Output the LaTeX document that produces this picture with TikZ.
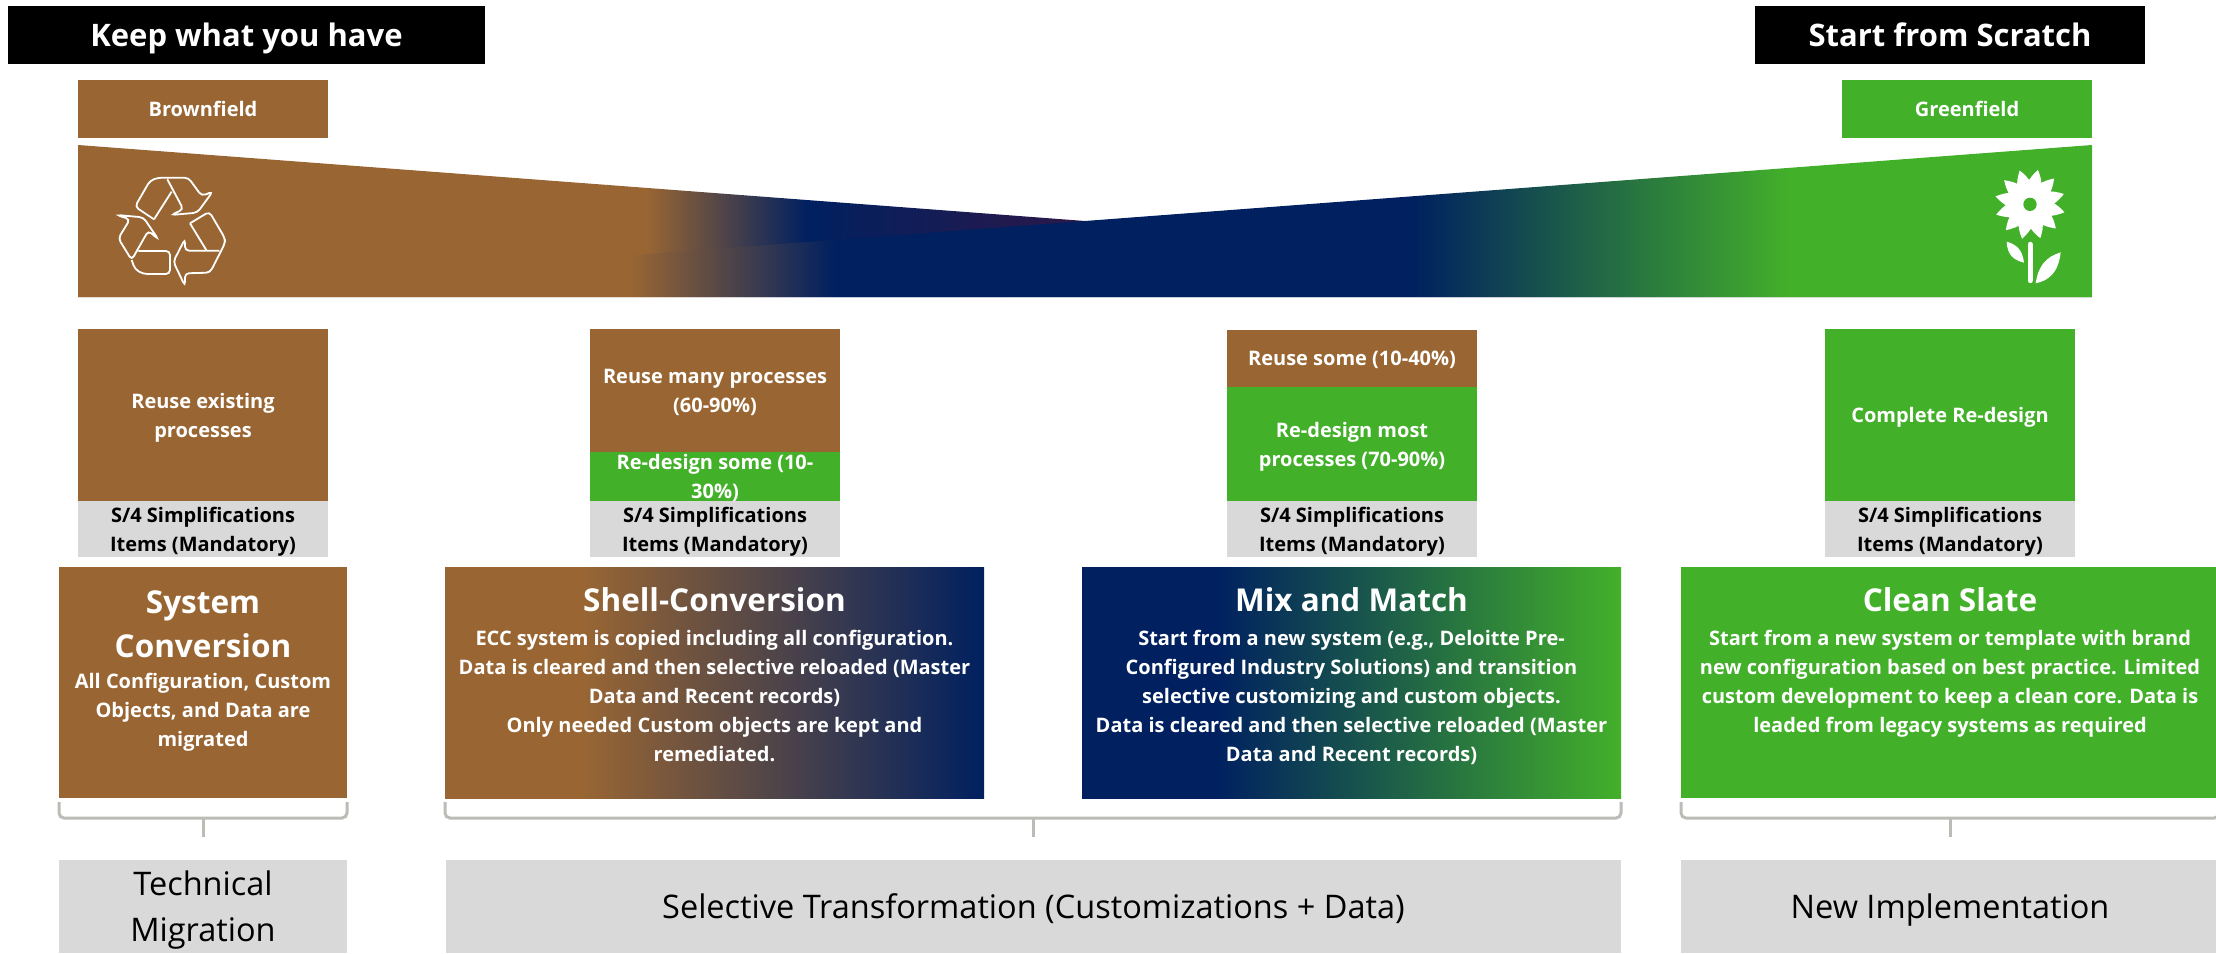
\documentclass[tikz,border=0pt]{standalone}
\usepackage{fontspec}
\setmainfont{Open Sans}
\usepackage{tikz}
\usetikzlibrary{calc,positioning}

\definecolor{fieldbrown}{HTML}{996633}
\definecolor{fieldnavy}{HTML}{002060}
\definecolor{fieldgreen}{HTML}{43B02A}
\definecolor{fieldgrey}{HTML}{D9D9D9}
\definecolor{fieldplum}{HTML}{2D1848}
\definecolor{bracketgrey}{HTML}{BBBCB6}

% 25bp and 75bp are the left and right ends of the shaded path
\pgfdeclarehorizontalshading{wedgeleft}{100bp}{color(0bp)=(fieldbrown); color(39.1bp)=(fieldbrown); color(43.1bp)=(fieldnavy); color(50bp)=(fieldplum); color(100bp)=(fieldplum)}
\pgfdeclarehorizontalshading{wedgeright}{100bp}{color(0bp)=(fieldbrown); color(38.7bp)=(fieldbrown); color(43.8bp)=(fieldnavy); color(58.1bp)=(fieldnavy); color(67.5bp)=(fieldgreen); color(100bp)=(fieldgreen)}
\pgfdeclarehorizontalshading{shellfade}{100bp}{color(0bp)=(fieldbrown); color(37.7bp)=(fieldbrown); color(75bp)=(fieldnavy); color(100bp)=(fieldnavy)}
\pgfdeclarehorizontalshading{mixfade}{100bp}{color(0bp)=(fieldnavy); color(37.3bp)=(fieldnavy); color(75bp)=(fieldgreen); color(100bp)=(fieldgreen)}

\begin{document}
\begin{tikzpicture}[x=1pt,y=-1pt]

\tikzset{plainbox/.style={anchor=north west,inner sep=0,outer sep=0,text=white,align=center,text depth=0pt,
		font=\fontsize{20}{29}\selectfont\bfseries},
brownbox/.style={plainbox,fill=fieldbrown},
greenbox/.style={plainbox,fill=fieldgreen},
greybox/.style={plainbox,fill=fieldgrey,text=black,minimum width=250pt,minimum height=56pt},
blackbox/.style={plainbox,fill=black,minimum height=58pt,text depth=-1pt,font=\fontsize{31}{38}\selectfont\bfseries},
bigbox/.style={plainbox,minimum height=231pt},
boxtitle/.style={text=white,inner sep=0,align=center,font=\fontsize{31.5}{44}\selectfont\bfseries},
boxbody/.style={text=white,inner sep=0,align=center,font=\fontsize{20}{29}\selectfont\bfseries},
footbox/.style={plainbox,fill=fieldgrey,text=black,minimum height=93pt,text depth=-1pt,font=\fontsize{32.5}{46}\selectfont},
bracket/.style={draw=bracketgrey,line width=3pt,rounded corners=5pt}}

\useasboundingbox (0,0) rectangle (2216,953);

% Top banners
\node (keepHave) [blackbox,minimum width=477pt] at (8,6) {Keep what you have};
\node (scratch) [blackbox,minimum width=390pt] at (1755,6) {Start from Scratch};
\node (brownfield) [brownbox,minimum width=250pt,minimum height=58pt] at (78,80) {Brownfield};
\node (greenfield) [greenbox,minimum width=250pt,minimum height=58pt] at (1842,80) {Greenfield};

% Wedges
\shade[shading=wedgeleft] (78,145) -- (2092,297) -- (78,297) -- cycle;
\shade[shading=wedgeright] (2092,145) -- (2092,297) -- (78,297) -- cycle;

% Recycle sign
\begin{scope}[shift={(90,160)},x=0.3333pt,y=-0.3333pt,draw=white,line width=1.8pt,rounded corners=4pt]
\draw (192,178) -- (135,140) -- (180,62) -- (205,53) -- (295,53) -- (335,108) -- (368,95) -- (322,158) -- (243,165) -- (280,148) -- (232,58);
\draw (245,95) -- (192,178);
\draw (80,165) -- (160,172) -- (205,238) -- (175,212) -- (125,300) -- (85,235) -- (120,178) -- cycle;
\draw (125,300) -- (135,328) -- (160,342) -- (240,342) -- (240,273) -- (145,273);
\draw (300,190) -- (358,155) -- (405,235) -- (405,250) -- (360,338) -- (285,340) -- (285,378) -- (250,305) -- (285,237) -- (285,272) -- (388,272);
\draw (300,190) -- (350,272);
\end{scope}

% Flower
\begin{scope}[shift={(1970,150)},x=0.3333pt,y=-0.3333pt]
\foreach \petal in {0,30,...,330}
	\fill[white,shift={(180,163)},rotate=\petal+17] (0,0) .. controls (35,-40) and (78,-20) .. (106,0) .. controls (78,20) and (35,40) .. (0,0);
\fill[fieldgreen] (180,163) circle (20);
\draw[white,line width=5pt,line cap=round] (180,283) -- (180,392);
\fill[white] (110,275) .. controls (112,315) and (130,330) .. (162,338) .. controls (158,305) and (145,285) .. (110,275);
\fill[white] (272,307) .. controls (265,370) and (235,392) .. (197,400) .. controls (205,345) and (230,320) .. (272,307);
\end{scope}

% Process columns
\node (reuseAll) [brownbox,minimum width=250pt,minimum height=172pt] at (78,329) {Reuse existing\\processes};
\node (reuseMany) [brownbox,minimum width=250pt,minimum height=123pt] at (590,329) {Reuse many processes\\(60-90\%)};
\node (redesignSome) [greenbox,minimum width=250pt,minimum height=49pt] at (590,452) {Re-design some (10-\\30\%)};
\node (reuseSome) [brownbox,minimum width=250pt,minimum height=57pt] at (1227,330) {Reuse some (10-40\%)};
\node (redesignMost) [greenbox,minimum width=250pt,minimum height=114pt] at (1227,387) {Re-design most\\processes (70-90\%)};
\node (redesignAll) [greenbox,minimum width=250pt,minimum height=172pt] at (1825,329) {Complete Re-design};

% S/4 items
\foreach \u/\xpos in {simpA/78, simpB/590, simpC/1227, simpD/1825}
	\node (\u) [greybox] at (\xpos,501) {S/4 Simplifications\\Items (Mandatory)};

% Approach boxes
\node (sysBox) [brownbox,bigbox,minimum width=288pt] at (59,567) {};
\node (shellBox) [plainbox,bigbox,minimum width=539pt,shading=shellfade] at (445,567) {};
\node (mixBox) [plainbox,bigbox,minimum width=539pt,shading=mixfade] at (1082,567) {};
\node (cleanBox) [greenbox,bigbox,minimum width=538pt] at (1681,567) {};

\node (sysTitle) [boxtitle] at (203,624) {System\\Conversion};
\node (sysBody) [boxbody,below=15pt of sysTitle] {All Configuration, Custom\\Objects, and Data are\\migrated};
\node (shellTitle) [boxtitle] at (714.5,600) {Shell-Conversion};
\node (shellBody) [boxbody,below=18pt of shellTitle] {ECC system is copied including all configuration.\\Data is cleared and then selective reloaded (Master\\Data and Recent records)\\Only needed Custom objects are kept and\\remediated.};
\node (mixTitle) [boxtitle] at (1351.5,600) {Mix and Match};
\node (mixBody) [boxbody,below=18pt of mixTitle] {Start from a new system (e.g., Deloitte Pre-\\Configured Industry Solutions) and transition\\selective customizing and custom objects.\\Data is cleared and then selective reloaded (Master\\Data and Recent records)};
\node (cleanTitle) [boxtitle] at (1950,600) {Clean Slate};
\node (cleanBody) [boxbody,below=18pt of cleanTitle] {Start from a new system or template with brand\\new configuration based on best practice. Limited\\custom development to keep a clean core. Data is\\leaded from legacy systems as required};

% Footer labels
\node (techLab) [footbox,minimum width=288pt] at (59,860) {Technical\\Migration};
\node (selectLab) [footbox,minimum width=1175pt] at (446,860) {Selective Transformation (Customizations + Data)};
\node (newLab) [footbox,minimum width=538pt] at (1681,860) {New Implementation};

% Brackets
\foreach \first/\last/\lab in {sysBox/sysBox/techLab, shellBox/mixBox/selectLab, cleanBox/cleanBox/newLab} {
	\draw[bracket] ($(\first.south west)+(0,4)$) |- ($(\last.south east)+(0,20)$) -- ($(\last.south east)+(0,4)$);
	\draw[bracket] ($(\lab.north)+(0,-23)$) -- ($(\lab.north)+(0,-42)$);
}

\end{tikzpicture}
\end{document}
